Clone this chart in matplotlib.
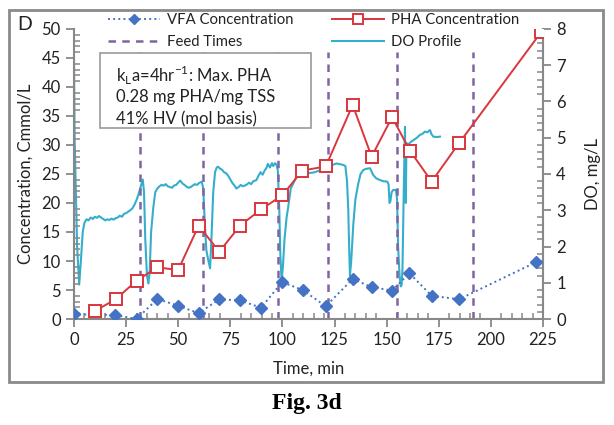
import matplotlib
matplotlib.use("Agg")
import matplotlib.pyplot as plt
from matplotlib.patches import Rectangle
from matplotlib.ticker import MultipleLocator

plt.rcParams["font.family"] = ["Lato", "DejaVu Sans"]

# VFA and PHA concentration (Cmmol/L)
vfa_t = [0, 19.7, 30, 40, 49.9, 59.8, 69.7, 79.7, 89.7, 99.9, 109.7, 120.8, 133.7,
         142.8, 152.6, 160.9, 171.6, 184.7, 221.7]
vfa_c = [0.8, 0.7, 0.0, 3.45, 2.3, 1.0, 3.4, 3.2, 1.95, 6.35, 5.0, 2.2, 6.9,
         5.5, 4.9, 7.9, 4.0, 3.4, 9.8]
pha_t = [10.1, 20, 30, 40, 50, 59.8, 69.7, 79.7, 89.7, 99.9, 109.6, 120.8, 133.7,
         142.8, 152.6, 161.2, 171.6, 184.7, 224]
pha_c = [1.4, 3.4, 6.6, 8.9, 8.45, 16.1, 11.6, 16.1, 18.9, 21.3, 25.6, 26.3, 36.9,
         28.0, 34.8, 29.0, 23.7, 30.3, 49.4]
feed_times = [31.7, 62.0, 98.0, 121.7, 154.8, 191.6]

# DO profile (mg/L)
do_t = [0, 0.3, 1.5, 2.5, 3.3, 4.2, 5.0, 6.0, 7.0, 8.0, 9.0, 10.0, 11.0, 12.0, 13.0,
        14.0, 15.0, 16.0, 17.0, 18.0, 19.0, 20.0, 21.0, 22.0, 23.0, 24.0, 25.0, 26.0,
        27.0, 28.0, 29.0, 30.0, 31.0, 32.0, 33.0, 33.6, 34.2, 35.0, 35.7, 36.3, 37.0,
        38.0, 39.0, 40.0, 41.0, 42.0, 43.0, 44.0, 45.0, 46.0, 47.0, 48.0, 49.0, 50.0,
        51.0, 52.0, 53.0, 54.0, 55.0, 56.0, 57.0, 58.0, 59.0, 60.0, 61.3, 62.0, 62.8,
        63.5, 64.5, 65.3, 66.0, 66.8, 67.7, 68.5, 69.2, 70.0, 71.0, 72.0, 73.0, 74.0,
        75.0, 76.0, 77.0, 77.9, 79.0, 80.0, 81.0, 82.7, 84.0, 85.0, 86.0, 87.5, 88.5,
        89.5, 90.5, 91.5, 92.3, 93.0, 94.0, 95.0, 95.6, 96.5, 97.2, 97.8, 98.5, 99.0,
        99.6, 100.3, 101.0, 102.0, 102.8, 104.0, 105.2, 106.5, 108.4, 110.0, 112.0,
        114.8, 116.0, 118.0, 120.0, 121.2, 122.5, 124.0, 126.0, 127.5, 129.2, 130.2,
        131.0, 131.6, 132.0, 132.4, 133.0, 134.0, 135.0, 136.4, 137.5, 138.8, 140.0,
        142.0, 143.6, 145.0, 146.9, 148.5, 150.3, 150.9, 151.4, 151.8, 152.4, 153.2,
        154.5, 155.0, 155.5, 156.2, 156.8, 157.2, 157.6, 158.2, 158.8, 159.2, 159.5,
        160.5, 161.5, 163.0, 164.5, 166.0, 167.0, 168.4, 169.5, 170.8, 171.5, 172.4,
        174.0, 175.6]
do_v = [7.2, 5.0, 2.0, 0.95, 1.6, 2.4, 2.65, 2.75, 2.72, 2.8, 2.76, 2.82, 2.79, 2.84, 2.8,
        2.76, 2.72, 2.75, 2.73, 2.77, 2.74, 2.78, 2.8, 2.85, 2.82, 2.9, 2.92, 2.96,
        3.0, 3.05, 3.15, 3.28, 3.45, 3.65, 3.85, 3.5, 2.2, 1.2, 0.98, 1.3, 2.4,
        3.05, 3.5, 3.6, 3.66, 3.7, 3.68, 3.72, 3.66, 3.64, 3.62, 3.68, 3.7, 3.76,
        3.82, 3.74, 3.7, 3.65, 3.62, 3.64, 3.68, 3.72, 3.7, 3.75, 3.79, 3.6, 2.6,
        1.9, 1.6, 1.4, 2.3, 3.5, 4.06, 4.18, 4.2, 4.15, 4.12, 4.05, 4.02, 3.95,
        3.85, 3.75, 3.68, 3.6, 3.64, 3.7, 3.66, 3.7, 3.76, 3.72, 3.8, 3.83, 3.95,
        4.05, 3.98, 4.1, 4.16, 4.28, 4.18, 4.3, 4.22, 4.3, 4.25, 4.1, 3.0, 1.8,
        1.03, 1.5, 2.2, 2.8, 3.1, 3.6, 3.74, 3.9, 4.02, 4.05, 4.02,
        4.04, 4.06, 4.1, 4.14, 4.16, 4.22, 4.25, 4.29, 4.27, 4.25, 4.22,
        3.8, 3.0, 2.0, 1.2, 1.6, 2.6, 3.3, 3.74, 4.0, 4.11, 4.14,
        4.16, 3.97, 3.88, 3.83, 3.8, 3.79, 3.72, 3.2, 3.25, 3.5, 3.56,
        3.56, 3.3, 2.0, 1.2, 0.9, 0.94, 1.4, 3.5, 5.3, 3.2, 4.85,
        4.82, 4.88, 4.94, 5.0, 5.08, 5.1, 5.17, 5.15, 5.21, 5.1, 5.03,
        5.02, 5.03]

vfa_color = "#4472C4"
pha_color = "#D9363E"
do_color = "#35AECB"
feed_color = "#8064A2"
axis_gray = "#888888"
txt = "#222222"

fig = plt.figure(figsize=(6.14, 4.25), dpi=100)
ax = fig.add_axes([0.1205, 0.2494, 0.7638, 0.6824])
ax2 = ax.twinx()
ax.set_zorder(ax2.get_zorder() + 1)
ax.patch.set_visible(False)

do_line, = ax2.plot(do_t, do_v, color=do_color, lw=1.5, label="DO Profile")
ax2.set_ylim(0, 8)

for i, ft in enumerate(feed_times):
    fl, = ax.plot([ft, ft], [0, 46], color=feed_color, lw=1.8, ls=(0, (3, 2.5)),
                  label="Feed Times" if i == 0 else None)
    if i == 0:
        feed_line = fl

vfa_line, = ax.plot(vfa_t, vfa_c, color=vfa_color, ls=":", lw=1.4, marker="D",
                    markersize=6.5, label="VFA Concentration", zorder=4)
pha_line, = ax.plot(pha_t, pha_c, color=pha_color, lw=1.4, marker="s", markersize=9,
                    markerfacecolor="white", markeredgewidth=1.4,
                    label="PHA Concentration", zorder=5)

ax.set_xlim(0, 225)
ax.set_ylim(0, 50)
ax.xaxis.set_major_locator(MultipleLocator(25))
ax.xaxis.set_minor_locator(MultipleLocator(5))
ax.yaxis.set_major_locator(MultipleLocator(5))
ax.yaxis.set_minor_locator(MultipleLocator(1))
ax2.yaxis.set_major_locator(MultipleLocator(1))
ax2.yaxis.set_minor_locator(MultipleLocator(0.2))

for a in (ax, ax2):
    for s in a.spines.values():
        s.set_visible(False)
ax.spines["left"].set_visible(True)
ax.spines["bottom"].set_visible(True)
ax2.spines["right"].set_visible(True)
for s in (ax.spines["left"], ax.spines["bottom"], ax2.spines["right"]):
    s.set_color(axis_gray)
    s.set_linewidth(1.5)

for a in (ax, ax2):
    a.tick_params(which="major", direction="out", length=6, width=1.3, color=axis_gray,
                  labelsize=12, labelcolor=txt)
    a.tick_params(which="minor", direction="in", length=4, width=1.1, color=axis_gray)

ax.set_xlabel("Time, min", fontsize=12, color=txt, labelpad=9)
ax.set_ylabel("Concentration, Cmmol/L", fontsize=12, color=txt, labelpad=6)
ax2.set_ylabel("DO, mg/L", fontsize=12, color=txt, rotation=90, labelpad=14)

fig.text(0.028, 1 - 25 / 425, "D", fontsize=14, color=txt, ha="left", va="center")

# annotation box
ax.add_patch(Rectangle((100 / 614, 1 - 128 / 425), 211 / 614, 75 / 425,
                       transform=fig.transFigure, facecolor="white",
                       edgecolor="#999999", lw=1.2, zorder=10, clip_on=False))
box_lines = [r"k$_\mathregular{L}$a=4hr$^\mathregular{-1}$: Max. PHA",
             "0.28 mg PHA/mg TSS",
             "41% HV (mol basis)"]
for i, line in enumerate(box_lines):
    fig.text(116 / 614, 1 - (75 + 22 * i) / 425, line, fontsize=12, color=txt,
             ha="left", va="center", zorder=11)

ax.legend(handles=[vfa_line, feed_line, pha_line, do_line], ncol=2, frameon=False,
          loc="upper left", bbox_to_anchor=(108 / 614, 1 - 13 / 425),
          bbox_transform=fig.transFigure, fontsize=10.7, handlelength=3.5,
          handletextpad=0.45, columnspacing=2.6, labelspacing=0.55,
          markerscale=0.75, borderaxespad=0, borderpad=0, labelcolor=txt)

# outer frame and caption
fig.patches.append(Rectangle((9 / 614, 1 - 382 / 425), 594 / 614, 372 / 425,
                             transform=fig.transFigure, fill=False,
                             edgecolor="#8a8a8a", lw=2))
fig.text(0.5, 1 - 404 / 425, "Fig. 3d", fontsize=17, fontweight="bold",
         family="Liberation Serif", ha="center", va="center")

fig.savefig("out.png", dpi=100)
